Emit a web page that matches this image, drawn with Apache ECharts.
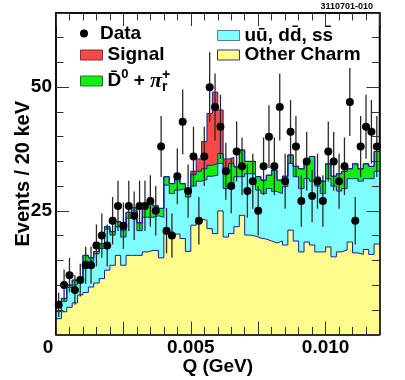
<!DOCTYPE html>
<html>
<head>
<meta charset="utf-8">
<script src="https://cdn.jsdelivr.net/npm/echarts@6/dist/echarts.min.js"></script>
<style>
html, body { margin: 0; padding: 0; background: #fff; }
#chart { width: 405px; height: 380px; }
</style>
</head>
<body>
<div id="chart"></div>
<script>
// bins of 0.0002 GeV from 0 to 0.012
var binWidth = 0.0002

var dataCounts = [6, 10, 12, 9, 11, 14, 14, 18, 20, 18,
  23, 26, 22, 26, 24, 26, 26, 27, 25, 38,
  21, 20, 32, 43, 29, 36, 23, 36, 50, 46,
  42, 33, 30, 37, 34, 29, 31, 25, 34, 40,
  34, 46, 31, 41, 38, 27, 35, 28, 31, 27,
  37, 35, 31, 34, 47, 23, 38, 42, 41, 38]

var otherCharm = [3.2, 4.6, 5.5, 6.4, 8.0, 8.5, 9.6, 10.4, 11.3, 13.0,
  14.0, 16.0, 14.0, 16.0, 16.0, 16.0, 16.7, 17.0, 17.0, 15.5,
  20.5, 19.5, 20.3, 19.4, 16.8, 22.1, 23.3, 23.1, 21.4, 20.4,
  25.0, 19.7, 20.4, 21.8, 24.1, 20.1, 19.9, 19.5, 19.3, 18.9,
  18.5, 18.9, 18.1, 21.1, 18.9, 16.7, 18.7, 18.1, 16.7, 16.7,
  17.7, 15.7, 16.7, 17.1, 18.7, 16.5, 16.2, 17.2, 16.2, 18.3]

var udsBkg = [1.5, 2.1, 4.0, 3.6, 2.5, 6.3, 5.2, 5.9, 6.1, 8.3,
  6.1, 5.8, 5.7, 7.5, 9.0, 5.0, 7.0, 6.7, 7.0, 8.2,
  9.7, 9.0, 8.9, 10.1, 11.0, 7.9, 7.7, 8.2, 10.6, 11.8,
  9.6, 9.8, 9.6, 10.1, 7.8, 12.4, 12.6, 9.7, 9.2, 10.6,
  10.4, 9.6, 11.8, 13.5, 13.0, 12.8, 12.8, 12.9, 13.3, 11.8,
  13.8, 14.3, 12.3, 12.4, 12.8, 15.0, 14.8, 14.3, 15.3, 14.7]

var d0PiBkg = [0, 0.6, 0.5, 1.0, 0, 1.2, 0.7, 0.5, 1.0, 0.5,
  0.7, 1.0, 1.4, 1.2, 0.6, 1.6, 2.5, 2.8, 2.0, 1.8,
  1.7, 2.0, 2.3, 1.0, 1.7, 2.3, 2.0, 2.2, 2.2, 2.4,
  2.0, 3.5, 4.6, 2.0, 5.4, 2.5, 2.5, 2.7, 2.7, 2.7,
  4.3, 2.7, 2.1, 1.7, 2.1, 4.0, 3.5, 5.0, 1.8, 2.5,
  3.0, 2.0, 3.5, 3.5, 2.0, 3.0, 2.5, 3.0, 2.5, 4.0]

var signal = [0, 0, 0, 0, 0, 0, 0, 0, 0, 0,
  0, 0, 0, 0, 0, 0, 0, 0, 0, 0,
  0, 0, 0, 0, 0, 0.7, 2.5, 5.5, 10.5, 14.4,
  8.8, 2.5, 1.2, 0, 0, 0, 0, 0, 0, 0,
  0, 0, 0, 0, 0, 0, 0, 0, 0, 0,
  0, 0, 0, 0, 0, 0, 0, 0, 0, 0]

var font = 'Liberation Sans'
var outline = '#1c1c9c'
var tickStyle = { color: '#333', width: 1 }

// stacked tops, drawn over each other like the ROOT histograms
function cumulate(parts) {
  return parts[0].map(function (v, i) {
    var s = 0
    parts.forEach(function (p) { s += p[i] })
    return s
  })
}
var topYellow = otherCharm
var topCyan = cumulate([otherCharm, udsBkg])
var topGreen = cumulate([otherCharm, udsBkg, d0PiBkg])
var topRed = cumulate([otherCharm, udsBkg, d0PiBkg, signal])

function stepData(tops) {
  var pts = tops.map(function (v, i) { return [i * binWidth, v] })
  pts.push([tops.length * binWidth, tops[tops.length - 1]])
  return pts
}

function histSeries(name, tops, fill) {
  return {
    name: name,
    type: 'line',
    step: 'end',
    data: stepData(tops),
    symbol: 'none',
    showSymbol: false,
    silent: true,
    itemStyle: { color: fill },
    lineStyle: { color: outline, width: 1 },
    areaStyle: { color: fill, opacity: 1, origin: 'start' },
    z: 2
  }
}

var points = dataCounts.map(function (v, i) { return [(i + 0.5) * binWidth, v] })
var errors = dataCounts.map(function (v, i) {
  return [(i + 0.5) * binWidth, v - Math.sqrt(v), v + Math.sqrt(v)]
})

var labelStyle = { fontSize: 19, fontWeight: 'bold', fontFamily: font, color: '#000' }
var legendText = { fontSize: 19, fontWeight: 'bold', fontFamily: font, color: '#000', lineHeight: 20 }

function sideAxis(pos, interval, len, line, extra) {
  var a = {
    type: 'value',
    position: pos,
    interval: interval,
    z: 5,
    axisLine: { show: line, onZero: false, lineStyle: { color: '#000', width: 1.5 } },
    axisTick: { show: true, inside: true, length: len, lineStyle: tickStyle },
    axisLabel: { show: false },
    splitLine: { show: false }
  }
  return Object.assign(a, extra)
}

var xr = { min: 0, max: 0.012 }
var yr = { min: 0, max: 65 }

var chart = echarts.init(document.getElementById('chart'), null, { renderer: 'canvas' })

chart.setOption({
  animation: false,
  backgroundColor: '#fff',
  title: {
    text: '3110701-010',
    right: 32,
    top: 2,
    padding: 0,
    textStyle: { fontSize: 9, fontWeight: 'bold', fontFamily: font, color: '#000' }
  },
  grid: {
    left: 56, right: 25.5, top: 13, bottom: 45.5,
    outerBoundsMode: 'none',
    show: true, borderColor: '#000', borderWidth: 1.5, backgroundColor: '#fff'
  },
  legend: [
    {
      data: [{ name: 'Data', icon: 'circle', itemStyle: { color: '#000', opacity: 1 } }],
      left: 80, top: 23.5, padding: 0, itemWidth: 22, itemHeight: 8,
      selectedMode: false, textStyle: legendText
    },
    {
      data: [{ name: 'Signal', icon: 'rect', itemStyle: { color: '#f84848', borderColor: '#7a3040', borderWidth: 1 } }],
      left: 80, top: 45, padding: 0, itemWidth: 22, itemHeight: 10,
      selectedMode: false, textStyle: legendText
    },
    {
      data: [{ name: 'D0pi', icon: 'rect', itemStyle: { color: '#10f010', borderColor: '#2a6a40', borderWidth: 1 } }],
      left: 80, top: 68, padding: 0, itemWidth: 22, itemHeight: 10,
      selectedMode: false,
      formatter: function () { return '{b|D\u0304}{s|0}{b| + }{pi|\u03c0}{r|r}{p|+}' },
      textStyle: Object.assign({}, legendText, {
        lineHeight: 26,
        rich: {
          b: { fontSize: 19, fontWeight: 'bold', fontFamily: font, color: '#000', lineHeight: 26 },
          s: { fontSize: 13, fontWeight: 'bold', fontFamily: font, color: '#000', lineHeight: 14, verticalAlign: 'top' },
          pi: { fontSize: 22, fontStyle: 'italic', fontFamily: 'Liberation Serif', color: '#000', lineHeight: 26 },
          r: { fontSize: 14, fontWeight: 'bold', fontFamily: font, color: '#000', lineHeight: 14, verticalAlign: 'bottom', width: 0 },
          p: { fontSize: 14, fontWeight: 'bold', fontFamily: font, color: '#000', lineHeight: 14, verticalAlign: 'top' }
        }
      })
    },
    {
      data: [{ name: 'uds', icon: 'rect', itemStyle: { color: '#80ffff', borderColor: '#5a7a9a', borderWidth: 1 } }],
      left: 217, top: 25.5, padding: 0, itemWidth: 22, itemHeight: 10,
      selectedMode: false,
      formatter: function () { return 'u\u016b, dd\u0304, ss\u0304' },
      textStyle: legendText
    },
    {
      data: [{ name: 'Other Charm', icon: 'rect', itemStyle: { color: '#fffb8c', borderColor: '#303090', borderWidth: 1 } }],
      left: 217, top: 45, padding: 0, itemWidth: 22, itemHeight: 10,
      selectedMode: false, textStyle: legendText
    }
  ],
  xAxis: [
    Object.assign(sideAxis('bottom', 0.0025, 13, true, xr), {
      axisLabel: {
        show: true, margin: 4,
        fontSize: 19, fontWeight: 'bold', fontFamily: font, color: '#000',
        formatter: function (v) {
          if (v === 0) return '{z|0}'
          if (Math.abs(v - 0.005) < 1e-9) return '0.005'
          if (Math.abs(v - 0.01) < 1e-9) return '0.010'
          return ''
        },
        rich: { z: { fontSize: 19, fontWeight: 'bold', fontFamily: font, color: '#000', padding: [0, 16, 0, 0] } }
      },
      name: 'Q (GeV)', nameLocation: 'middle', nameGap: 23, nameMoveOverlap: false,
      nameTextStyle: labelStyle
    }),
    sideAxis('bottom', 0.0005, 7.5, false, xr),
    sideAxis('top', 0.0025, 13, true, xr),
    sideAxis('top', 0.0005, 7.5, false, xr)
  ],
  yAxis: [
    Object.assign(sideAxis('left', 25, 13, true, yr), {
      axisLabel: {
        show: true, margin: 4,
        fontSize: 19, fontWeight: 'bold', fontFamily: font, color: '#000',
        formatter: function (v) { return (v === 25 || v === 50) ? String(v) : '' }
      },
      name: 'Events / 20 keV', nameLocation: 'middle', nameGap: 23, nameMoveOverlap: false,
      nameTextStyle: Object.assign({}, labelStyle, { fontSize: 20 })
    }),
    sideAxis('left', 5, 7.5, false, yr),
    sideAxis('right', 25, 13, true, yr),
    sideAxis('right', 5, 7.5, false, yr)
  ],
  series: [
    histSeries('Signal', topRed, '#f84848'),
    histSeries('D0pi', topGreen, '#10f010'),
    histSeries('uds', topCyan, '#80ffff'),
    histSeries('Other Charm', topYellow, '#fffb8c'),
    {
      name: 'Data err',
      type: 'custom',
      data: errors,
      silent: true,
      z: 3,
      encode: { x: 0, y: [1, 2] },
      renderItem: function (params, api) {
        var x = api.value(0)
        var p1 = api.coord([x, api.value(1)])
        var p2 = api.coord([x, api.value(2)])
        return {
          type: 'line',
          shape: { x1: p1[0], y1: p1[1], x2: p2[0], y2: p2[1] },
          style: { stroke: '#2a2a2a', lineWidth: 1.3 }
        }
      }
    },
    {
      name: 'Data',
      type: 'scatter',
      data: points,
      symbol: 'circle',
      symbolSize: 8,
      silent: true,
      itemStyle: { color: '#000', opacity: 1 },
      z: 4
    }
  ]
})

window.addEventListener('resize', function () {
  chart.resize()
})
</script>
</body>
</html>
